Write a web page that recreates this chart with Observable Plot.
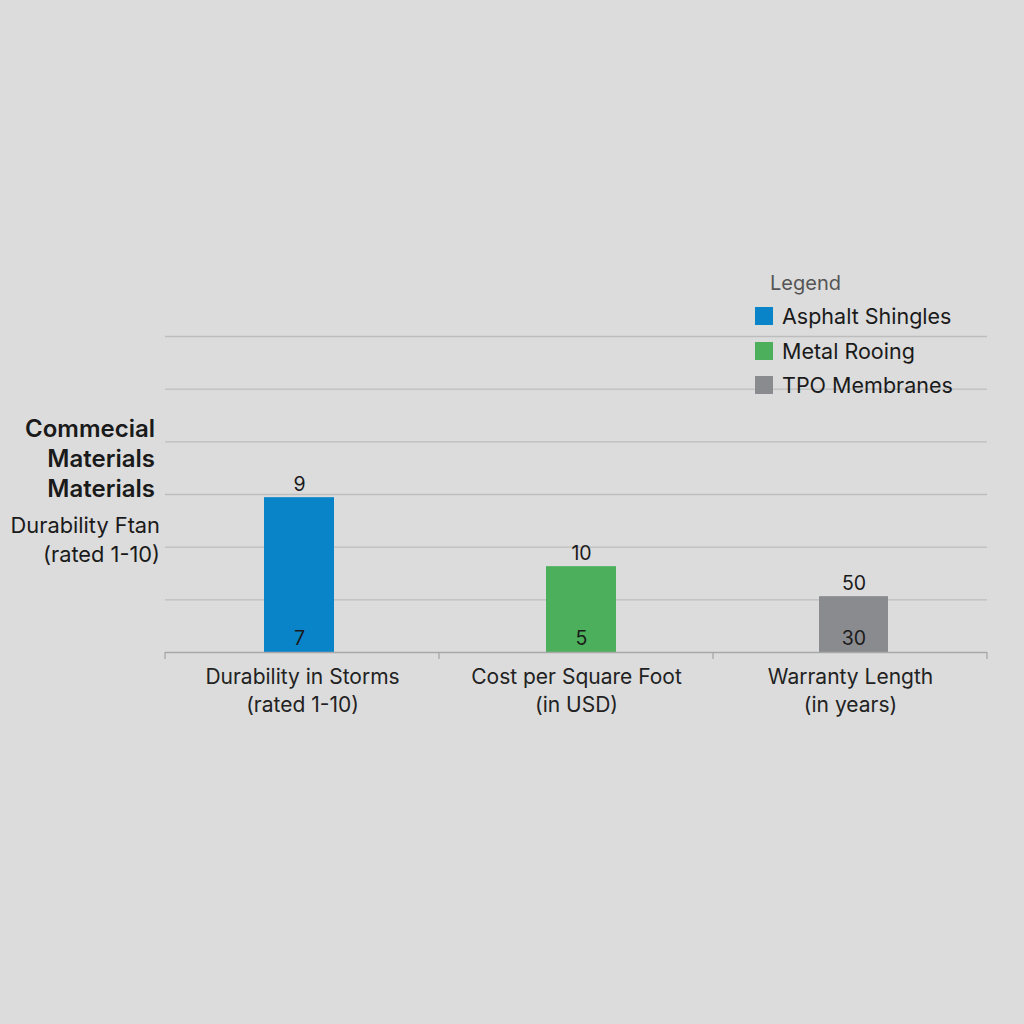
<!DOCTYPE html>
<html>
<head>
<meta charset="utf-8">
<script src="https://cdn.jsdelivr.net/npm/d3@7"></script>
<script src="https://cdn.jsdelivr.net/npm/@observablehq/plot@0.6"></script>
<style>
  html, body { margin: 0; padding: 0; background: #dcdcdc; }
  body { width: 1024px; height: 1024px; position: relative; overflow: hidden; font-family: "Inter", sans-serif; }
  #chart { position: absolute; left: 0; top: 0; }
  .title { position: absolute; right: calc(1024px - 155px); top: 414px; text-align: right; font-weight: 600; font-size: 24px; line-height: 30px; color: #1a1a1a; white-space: nowrap; }
  .ytitle { position: absolute; right: calc(1024px - 160px); top: 511px; text-align: right; font-size: 21.8px; line-height: 29px; color: #1a1a1a; white-space: nowrap; }
  .legend { position: absolute; left: 755px; top: 267px; color: #1a1a1a; }
  .legend .head { font-size: 20px; color: #555; margin-left: 15px; line-height: 32px; }
  .legend .item { display: flex; align-items: center; font-size: 21.5px; height: 34.5px; }
  .legend .sw { width: 18px; height: 18px; margin-right: 9px; }
</style>
</head>
<body>
<div id="chart"></div>
<div class="title">Commecial<br>Materials<br>Materials</div>
<div class="ytitle">Durability Ftan<br>(rated 1-10)</div>
<div class="legend" id="legend"></div>
<script>
const categories = ["Durability in Storms", "Cost per Square Foot", "Warranty Length"];
const categoryLabels = ["Durability in Storms\n(rated 1-10)", "Cost per Square Foot\n(in USD)", "Warranty Length\n(in years)"];
const series = ["Asphalt Shingles", "Metal Rooing", "TPO Membranes"];
const colors = ["#0a84c9", "#4caf5b", "#8a8b8e"];
const barHeights = [2.94, 1.63, 1.06];
const topLabels = ["9", "10", "50"];
const innerLabels = ["7", "5", "30"];
const gridTicks = [1, 2, 3, 4, 5, 6];

const data = categories.map((c, i) => ({
  category: c, series: series[i], h: barHeights[i], top: topLabels[i], inner: innerLabels[i]
}));
const labelMap = new Map(categories.map((c, i) => [c, categoryLabels[i]]));

// small per-bar horizontal offsets within each band (style only)
const barInsets = [[99, 105], [107, 97], [106, 99]];

const barMarks = data.flatMap((d, i) => {
  const [l, r] = barInsets[i];
  const shift = (l - r) / 2;
  return [
    Plot.barY([d], { x: "category", y: "h", fill: "series", insetLeft: l, insetRight: r }),
    Plot.text([d], { x: "category", y: "h", text: "top", dy: -13, dx: shift, fontSize: 19.5, fill: "#1a1a1a" }),
    Plot.text([d], { x: "category", y: 0, text: "inner", dy: -14, dx: shift, fontSize: 19.5, fill: "#1a1a1a" })
  ];
});

const plot = Plot.plot({
  width: 1024,
  height: 1024,
  marginLeft: 165,
  marginRight: 37,
  marginTop: 336,
  marginBottom: 372,
  style: { background: "transparent", fontFamily: "Inter, sans-serif" },
  x: { domain: categories, padding: 0, label: null },
  y: { domain: [0, 6], label: null },
  color: { domain: series, range: colors },
  marks: [
    Plot.ruleY(gridTicks, { stroke: "#bdbdbd", strokeWidth: 1.3 }),
    ...barMarks,
    Plot.ruleY([0], { stroke: "#a8a8a8", strokeWidth: 1.5 }),
    Plot.axisX({
      tickSize: 0, tickPadding: 12, fontSize: 21, lineHeight: 1.33, fill: "#222", color: "#222", label: null,
      tickFormat: (d) => labelMap.get(d)
    }),
    Plot.axisY({ ticks: [], label: null, tickSize: 0 })
  ]
});
document.getElementById("chart").appendChild(plot);

// baseline tick marks at the band edges, from the x scale
const xs = plot.scale("x");
const svg = d3.select(plot);
const edges = categories.map((c) => xs.apply(c)).concat([xs.apply(categories[2]) + xs.bandwidth]);
svg.append("g").selectAll("line").data(edges).join("line")
  .attr("x1", (d) => d).attr("x2", (d) => d)
  .attr("y1", 652).attr("y2", 659)
  .attr("stroke", "#a8a8a8").attr("stroke-width", 1.3);

const legend = d3.select("#legend");
legend.append("div").attr("class", "head").text("Legend");
series.forEach((s, i) => {
  const it = legend.append("div").attr("class", "item");
  it.append("div").attr("class", "sw").style("background", colors[i]);
  it.append("span").text(s);
});
</script>
</body>
</html>
